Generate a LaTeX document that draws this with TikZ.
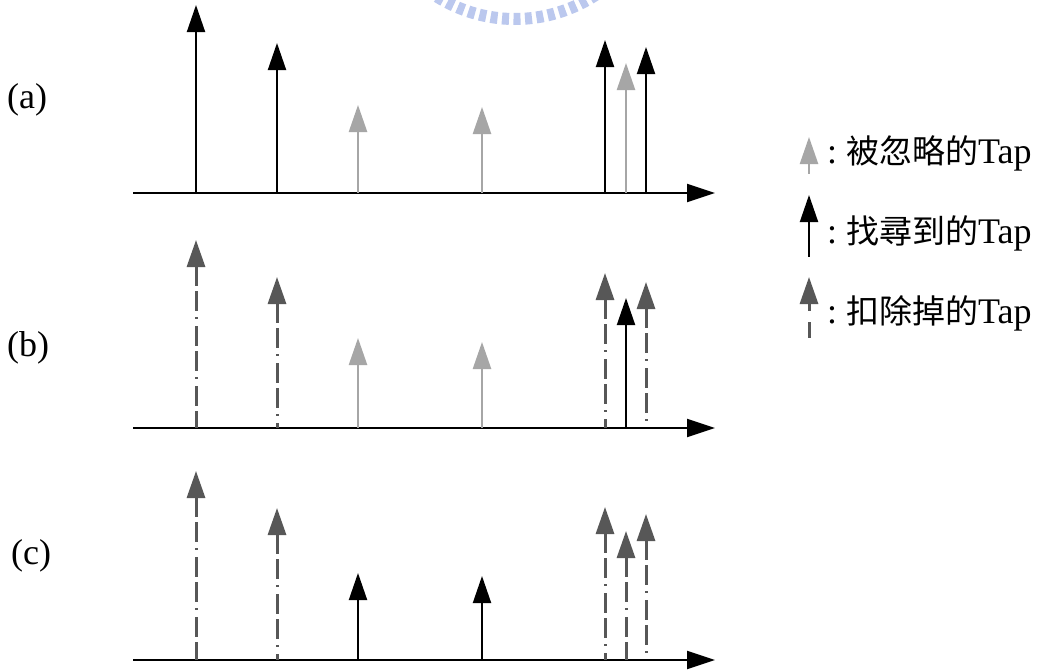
\documentclass[tikz,border=0pt]{standalone}
\usepackage{fontspec}
\setmainfont{Liberation Serif}
\newfontfamily\cjkfont{Noto Sans CJK TC}
\usetikzlibrary{arrows.meta}

\definecolor{ignoredgray}{HTML}{A6A6A6}
\definecolor{removedgray}{HTML}{575757}
\definecolor{sealblue}{HTML}{BBC8EE}

\begin{document}
\begin{tikzpicture}[x=1pt,y=-1pt,
  tiphead/.style={{Triangle[length=27pt,width=18pt]}-},
  tapfound/.style={tiphead, draw=black, line width=2pt},
  tapignored/.style={tiphead, draw=ignoredgray, line width=2.4pt},
  tapremoved/.style={tiphead, draw=removedgray, line width=3pt,
    dash pattern=on 20pt off 5pt on 20pt off 6pt on 2pt off 7pt},
  timeaxis/.style={-{Triangle[length=28pt,width=18pt]}, draw=black, line width=2pt},
  rowlabel/.style={anchor=base west, inner sep=0pt, font=\fontsize{36}{40}\selectfont},
  legendtext/.style={anchor=base west, inner sep=0pt, font=\fontsize{36}{40}\selectfont},
  cjk/.style={}
]
\fill[white] (0,0) rectangle (1043,670);
\useasboundingbox (0,0) rectangle (1043,670);

% faint seal at the top edge
\begin{scope}
  \clip (0,0) rectangle (1043,670);
  \draw[sealblue, line width=12pt, dash pattern=on 7pt off 4.5pt]
    (515,-128) ++(52:147) arc[start angle=52, end angle=128, radius=147];
\end{scope}

% time axes
\coordinate (a0) at (133,193);  \coordinate (a1) at (715,193);
\coordinate (b0) at (133,428);  \coordinate (b1) at (715,428);
\coordinate (c0) at (133,660);  \coordinate (c1) at (715,660);
\draw[timeaxis] (a0) -- (a1);
\draw[timeaxis] (b0) -- (b1);
\draw[timeaxis] (c0) -- (c1);

% row (a)
\foreach \x/\t/\s in {196/5/tapfound, 277/43/tapfound, 358/105/tapignored,
    482/107/tapignored, 605/40/tapfound, 626/63/tapignored, 646/47/tapfound}
  \draw[\s] (\x,\t) -- (\x,193);

% row (b)
\foreach \x/\t/\s in {196/240/tapremoved, 277/277/tapremoved, 358/338/tapignored,
    482/342/tapignored, 605/273/tapremoved, 626/298/tapfound, 646/282/tapremoved}
  \draw[\s] (\x,\t) -- (\x,428);

% row (c)
\foreach \x/\t/\s in {196/471/tapremoved, 277/508/tapremoved, 358/573/tapfound,
    482/576/tapfound, 605/507/tapremoved, 626/531/tapremoved, 646/514/tapremoved}
  \draw[\s] (\x,\t) -- (\x,660);

% row labels
\node[rowlabel] (la) at (7,108) {(a)};
\node[rowlabel] (lb) at (7,356) {(b)};
\node[rowlabel] (lc) at (11,564) {(c)};

% legend
\draw[tapignored] (809,137) -- (809,174);
\draw[tapfound] (809,195) -- (809,257);
\draw[tapremoved, dash pattern=on 8pt off 11pt on 20pt] (809,277) -- (809,338);
\newcommand{\cjktext}[1]{{\cjkfont\fontsize{33}{36}\selectfont #1}}
\node[legendtext] (t1) at (827,163) {:\ \cjktext{被忽略的}Tap};
\node[legendtext] (t2) at (827,243) {:\ \cjktext{找尋到的}Tap};
\node[legendtext] (t3) at (827,323) {:\ \cjktext{扣除掉的}Tap};
\end{tikzpicture}
\end{document}
